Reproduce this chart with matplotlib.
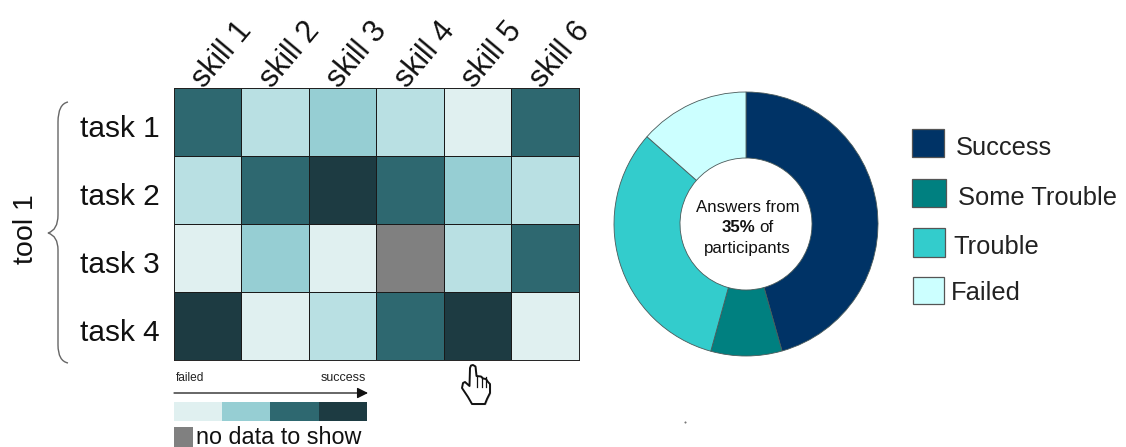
import numpy as np
import matplotlib
matplotlib.use("Agg")
import matplotlib.pyplot as plt
from matplotlib.colors import ListedColormap, BoundaryNorm
from matplotlib.patches import PathPatch, Rectangle, Polygon
from matplotlib.path import Path
from matplotlib.transforms import ScaledTranslation

plt.rcParams['font.family'] = ['Liberation Sans', 'DejaVu Sans']

W, H = 1126, 447

skills = ["skill 1", "skill 2", "skill 3", "skill 4", "skill 5", "skill 6"]
tasks = ["task 1", "task 2", "task 3", "task 4"]
# skill level per cell, 1 = failed ... 5 = success
scores = [
    [4, 2, 3, 2, 1, 4],
    [2, 4, 5, 4, 3, 2],
    [1, 3, 1, np.nan, 2, 4],
    [5, 1, 2, 4, 5, 1],
]
level_colors = ["#E0F0F0", "#B9E0E3", "#96CED3", "#2E6870", "#1D3B42"]
scale_colors = ["#E0F0F0", "#96CED3", "#2E6870", "#1D3B42"]

answer_labels = ["Success", "Some Trouble", "Trouble", "Failed"]
answer_values = [45.6, 8.7, 32.2, 13.5]
answer_colors = ["#003366", "#008080", "#33CCCC", "#CCFFFF"]


def px_axes(left, top, right, bottom):
    return fig.add_axes([left / W, 1 - bottom / H, (right - left) / W, (bottom - top) / H])


fig = plt.figure(figsize=(W / 100, H / 100), dpi=100)

# heatmap
ax = px_axes(174, 88, 579, 360)
cmap = ListedColormap(level_colors)
cmap.set_bad("#808080")
norm = BoundaryNorm(np.arange(0.5, 6), cmap.N)
ax.pcolormesh(np.ma.masked_invalid(scores), cmap=cmap, norm=norm, edgecolors="#1a1a1a", linewidth=0.45)
ax.invert_yaxis()
ax.set_xticks([])
ax.set_yticks(np.arange(len(tasks)) + 0.5, tasks, fontsize=21.5, color="#111111")
ax.tick_params(axis="y", length=0, pad=10)
for lab in ax.get_yticklabels():
    lab.set_transform(lab.get_transform() + ScaledTranslation(0, -4 / 100, fig.dpi_scale_trans))
for s in ax.spines.values():
    s.set_linewidth(0.7)
    s.set_color("#222222")
for j, name in enumerate(skills):
    ax.annotate(name, (j + 0.5, 0), xytext=(2, -5), textcoords="offset pixels", rotation=50,
                rotation_mode="anchor", ha="left", va="bottom", fontsize=22, color="#111111")

# donut
pie_ax = px_axes(614, 92, 878, 356)
pie_ax.pie(answer_values, colors=answer_colors, startangle=90, counterclock=False, radius=1,
           wedgeprops=dict(width=0.5, edgecolor="#4a5a5a", linewidth=0.6))
pie_ax.set_xlim(-1, 1)
pie_ax.set_ylim(-1, 1)

# everything else is placed in pixel coordinates
ov = fig.add_axes([0, 0, 1, 1])
ov.set_xlim(0, W)
ov.set_ylim(H, 0)
ov.axis("off")
ov.patch.set_alpha(0)

ov.text(26, 229, "tool 1", rotation=90, ha="center", va="center", fontsize=20.5, color="#111111")

brace = Path(
    [(68, 102), (58, 104), (58, 122), (58, 215), (58, 230), (48, 233), (58, 236), (58, 250),
     (58, 345), (58, 361), (68, 363)],
    [Path.MOVETO, Path.CURVE3, Path.CURVE3, Path.LINETO, Path.CURVE3, Path.CURVE3, Path.CURVE3, Path.CURVE3,
     Path.LINETO, Path.CURVE3, Path.CURVE3],
)
ov.add_patch(PathPatch(brace, fill=False, edgecolor="#666666", linewidth=1.0))

# failed -> success scale
ov.text(176, 378, "failed", ha="left", va="center", fontsize=8.6, color="#222222")
ov.text(366, 378, "success", ha="right", va="center", fontsize=9, color="#222222")
ov.annotate("", xy=(368, 393), xytext=(174, 393),
            arrowprops=dict(arrowstyle="-|>,head_length=0.5,head_width=0.25", color="#111111", lw=0.9,
                            mutation_scale=13, shrinkA=0, shrinkB=0))
edges = [174, 222, 270, 319, 367]
for c, x0, x1 in zip(scale_colors, edges[:-1], edges[1:]):
    ov.add_patch(Rectangle((x0, 402), x1 - x0, 19, facecolor=c, edgecolor="none"))
ov.add_patch(Rectangle((174, 427), 19, 20, facecolor="#808080", edgecolor="none"))
ov.text(196, 437, "no data to show", ha="left", va="center", fontsize=16.8, color="#111111")

# hand pointer under the heatmap
hand = [(470, 368), (471, 365.5), (473, 365), (475.5, 366.5), (476.5, 376), (481, 376.5), (483, 378.5),
        (486, 379), (488, 382), (490, 384), (490, 393), (487, 399), (485, 404), (472, 404), (468, 397),
        (462, 388), (463, 383), (465, 382), (469.5, 386)]
ov.add_patch(Polygon([(x + 1.2, y + 1.2) for x, y in hand], closed=True, facecolor="#bbbbbb", edgecolor="none", alpha=0.6))
ov.add_patch(Polygon(hand, closed=True, facecolor="white", edgecolor="#111111", linewidth=1.4, joinstyle="round"))
for x in (476.5, 481.5, 486):
    ov.plot([x, x], [377, 387], color="#111111", lw=0.9)

# donut centre
ov.text(748, 207, "Answers from", ha="center", va="center", fontsize=12.2, color="#111111")
ov.text(738, 228, "35%", ha="center", va="center", fontsize=12.2, fontweight="bold", color="#111111")
ov.text(759, 228, "of", ha="left", va="center", fontsize=12.2, color="#111111")
ov.text(747, 248, "participants", ha="center", va="center", fontsize=12.2, color="#111111")

# legend
swatches = [(912, 129, 32, 28), (912, 179, 34, 28), (913, 228, 32, 29), (913, 277, 31, 27)]
label_pos = [(956, 148), (958, 198), (953, 247), (951, 293)]
for box, c, name, (tx, ty) in zip(swatches, answer_colors, answer_labels, label_pos):
    ov.add_patch(Rectangle(box[:2], box[2], box[3], facecolor=c, edgecolor="#555555", linewidth=0.9))
    ov.text(tx, ty, name, ha="left", va="center", fontsize=18.4, color="#222222")

ov.plot([685], [422], marker="s", ms=0.5, color="#777777")

fig.savefig("out.png", dpi=100)
